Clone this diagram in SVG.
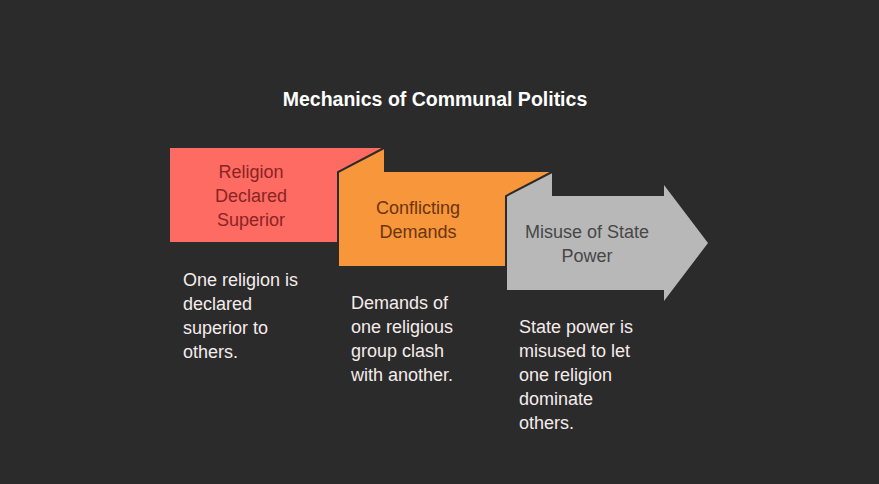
<svg xmlns="http://www.w3.org/2000/svg" width="879" height="484" viewBox="0 0 879 484">
<style>
.t{font-family:"Liberation Sans",Arial,sans-serif;font-size:18px;text-anchor:middle}
.d{font-family:"Liberation Sans",Arial,sans-serif;font-size:18px;fill:#f5ecec}
.e{fill:none;stroke:#2b2b2b;stroke-width:2}
</style>
<rect width="879" height="484" fill="#2b2b2b"/>
<text x="435" y="106" text-anchor="middle" font-family="Liberation Sans,Arial,sans-serif" font-size="19.5" font-weight="bold" fill="#ffffff">Mechanics of Communal Politics</text>
<g id="connectors"></g>
<g id="n1">
<polygon points="170,148 384,148 338,172 338,242 170,242" fill="#fd6b63"/>
<text class="t" fill="#8a2424"><tspan x="251" y="178">Religion</tspan><tspan x="251" y="202">Declared</tspan><tspan x="251" y="226">Superior</tspan></text>
<text class="d"><tspan x="183" y="286">One religion is</tspan><tspan x="183" y="310">declared</tspan><tspan x="183" y="334">superior to</tspan><tspan x="183" y="358">others.</tspan></text>
</g>
<g id="n2">
<polygon points="338,172 384,148 384,172 552,172 506,196 506,266 338,266" fill="#f7963a"/>
<polyline class="e" points="338,266 338,172 384,148"/>
<text class="t" fill="#6b3510"><tspan x="418" y="214">Conflicting</tspan><tspan x="418" y="238">Demands</tspan></text>
<text class="d"><tspan x="351" y="309">Demands of</tspan><tspan x="351" y="333">one religious</tspan><tspan x="351" y="357">group clash</tspan><tspan x="351" y="381">with another.</tspan></text>
</g>
<g id="n3">
<polygon points="506,196 552,172 552,196 664,196 664,185 708,243 664,301 664,290 506,290" fill="#b8b8b8"/>
<polyline class="e" points="506,290 506,196 552,172"/>
<text class="t" fill="#474747"><tspan x="587" y="238">Misuse of State</tspan><tspan x="587" y="262">Power</tspan></text>
<text class="d"><tspan x="519" y="333">State power is</tspan><tspan x="519" y="357">misused to let</tspan><tspan x="519" y="381">one religion</tspan><tspan x="519" y="405">dominate</tspan><tspan x="519" y="429">others.</tspan></text>
</g>
</svg>
